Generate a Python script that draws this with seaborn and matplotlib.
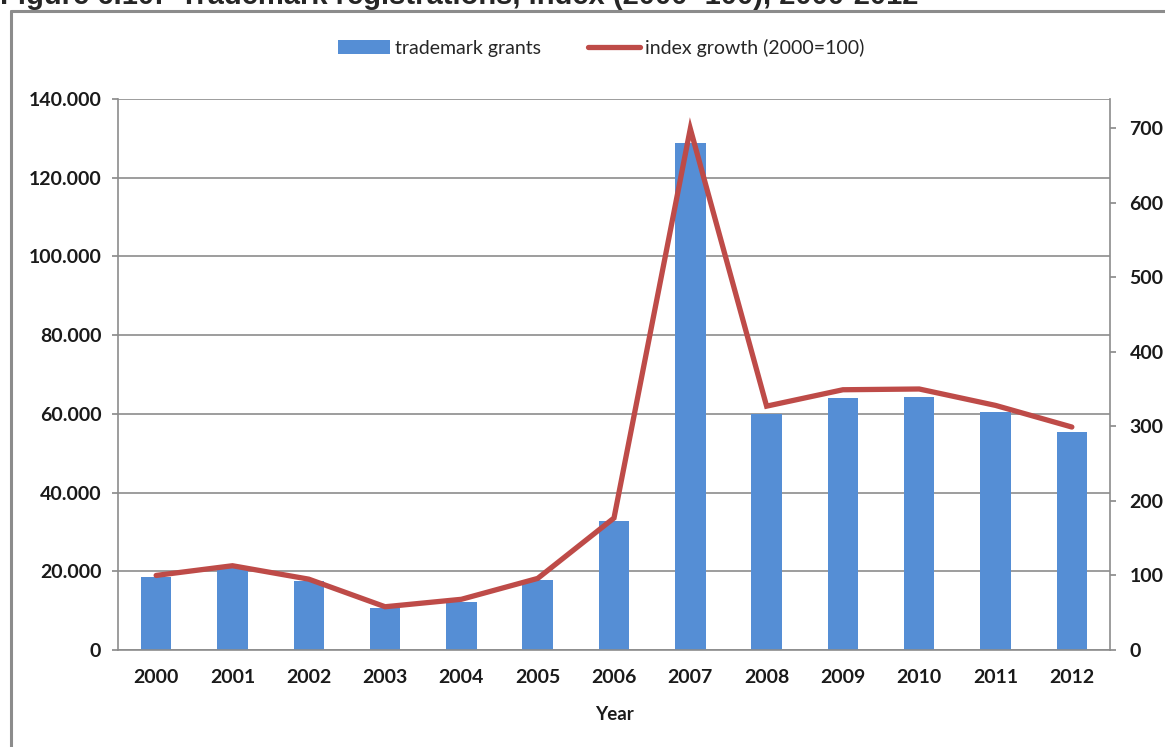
import matplotlib
matplotlib.use("Agg")
import matplotlib.pyplot as plt
import seaborn as sns
import numpy as np
import pandas as pd
from matplotlib.lines import Line2D
from matplotlib.patches import Patch

years = ["2000", "2001", "2002", "2003", "2004", "2005", "2006",
         "2007", "2008", "2009", "2010", "2011", "2012"]
trademark_grants = [18500, 20900, 17500, 10700, 12200, 17800, 32800,
                    128700, 60000, 64100, 64400, 60500, 55400]
index_growth = [100, 113, 95, 58, 68, 96, 177,
                699, 327, 349, 350, 328, 299]
left_ticks = [0, 20000, 40000, 60000, 80000, 100000, 120000, 140000]
right_ticks = [0, 100, 200, 300, 400, 500, 600, 700]

BAR = "#558ED5"
LINE = "#BE4B48"
GRID = "#8C8C8C"
TXT = "#1a1a1a"
FS = 14

sns.set_theme(style="white")
plt.rcParams["font.family"] = ["Lato", "DejaVu Sans"]

fig = plt.figure(figsize=(11.65, 7.47), dpi=100)
W, H = 1165, 747
ax = fig.add_axes([118 / W, 1 - 650 / H, (1110 - 118) / W, (650 - 99) / H])

df = pd.DataFrame({"year": years, "grants": trademark_grants, "index": index_growth})
sns.barplot(data=df, x="year", y="grants", ax=ax, color=BAR, width=0.4,
            saturation=1, edgecolor="none")
ax.set_ylim(0, 140000)
ax.set_xlim(-0.5, len(years) - 0.5)
ax.set_yticks(left_ticks)
ax.set_yticklabels(["0" if v == 0 else f"{v/1000:.3f}" for v in left_ticks])
ax.grid(axis="y", color=GRID, linewidth=1.2)
ax.set_axisbelow(True)
for s in ["top", "right"]:
    ax.spines[s].set_visible(False)
for s in ["left", "bottom"]:
    ax.spines[s].set_color(GRID)
    ax.spines[s].set_linewidth(1.2)
ax.tick_params(axis="y", length=4, color=GRID, labelsize=FS, pad=8)
ax.tick_params(axis="x", length=0, labelsize=FS, pad=14)
for t in ax.get_xticklabels() + ax.get_yticklabels():
    t.set_fontweight("bold")
    t.set_color(TXT)
ax.set_xlabel("Year", fontsize=FS - 0.5, fontweight="bold", labelpad=14, color=TXT)
ax.set_ylabel("")

ax2 = ax.twinx()
right_max = 700 * (650 - 99) / (650 - 128)
sns.lineplot(x=np.arange(len(years)), y=index_growth, ax=ax2, color=LINE,
             linewidth=3.8, solid_capstyle="round", solid_joinstyle="miter")
ax2.set_ylim(0, right_max)
ax2.set_yticks(right_ticks)
ax2.set_yticklabels([str(v) for v in right_ticks])
ax2.set_xlim(-0.5, len(years) - 0.5)
for s in ["top", "left", "bottom"]:
    ax2.spines[s].set_visible(False)
ax2.spines["right"].set_color(GRID)
ax2.spines["right"].set_linewidth(1.2)
ax2.tick_params(axis="y", length=4, color=GRID, labelsize=FS, pad=10, right=True)
for t in ax2.get_yticklabels():
    t.set_fontweight("bold")
    t.set_color(TXT)
ax2.grid(False)
ax2.set_ylabel("")

handles = [Patch(facecolor=BAR, edgecolor="none"),
           Line2D([0], [0], color=LINE, linewidth=3.8)]
fig.legend(handles, ["trademark grants", "index growth (2000=100)"],
           loc="center", bbox_to_anchor=(601 / W, 1 - 48 / H), ncol=2, frameon=False,
           prop={"family": "Lato", "size": FS}, handlelength=2.7, handleheight=0.7,
           columnspacing=2.4, handletextpad=0.25)

# outer chart frame
fig.add_artist(Line2D([11 / W, 11 / W], [0, 1 - 11 / H], transform=fig.transFigure,
                      color=GRID, linewidth=2.2))
fig.add_artist(Line2D([11 / W, 1], [1 - 11 / H, 1 - 11 / H], transform=fig.transFigure,
                      color=GRID, linewidth=2.2))

fig.text(0.0, 1 - 4 / H, "Figure 6.10:  Trademark registrations, index (2000=100), 2000-2012",
         fontsize=21, fontweight="bold", family="Liberation Sans", va="baseline", ha="left")

fig.savefig("out.png", dpi=100)
